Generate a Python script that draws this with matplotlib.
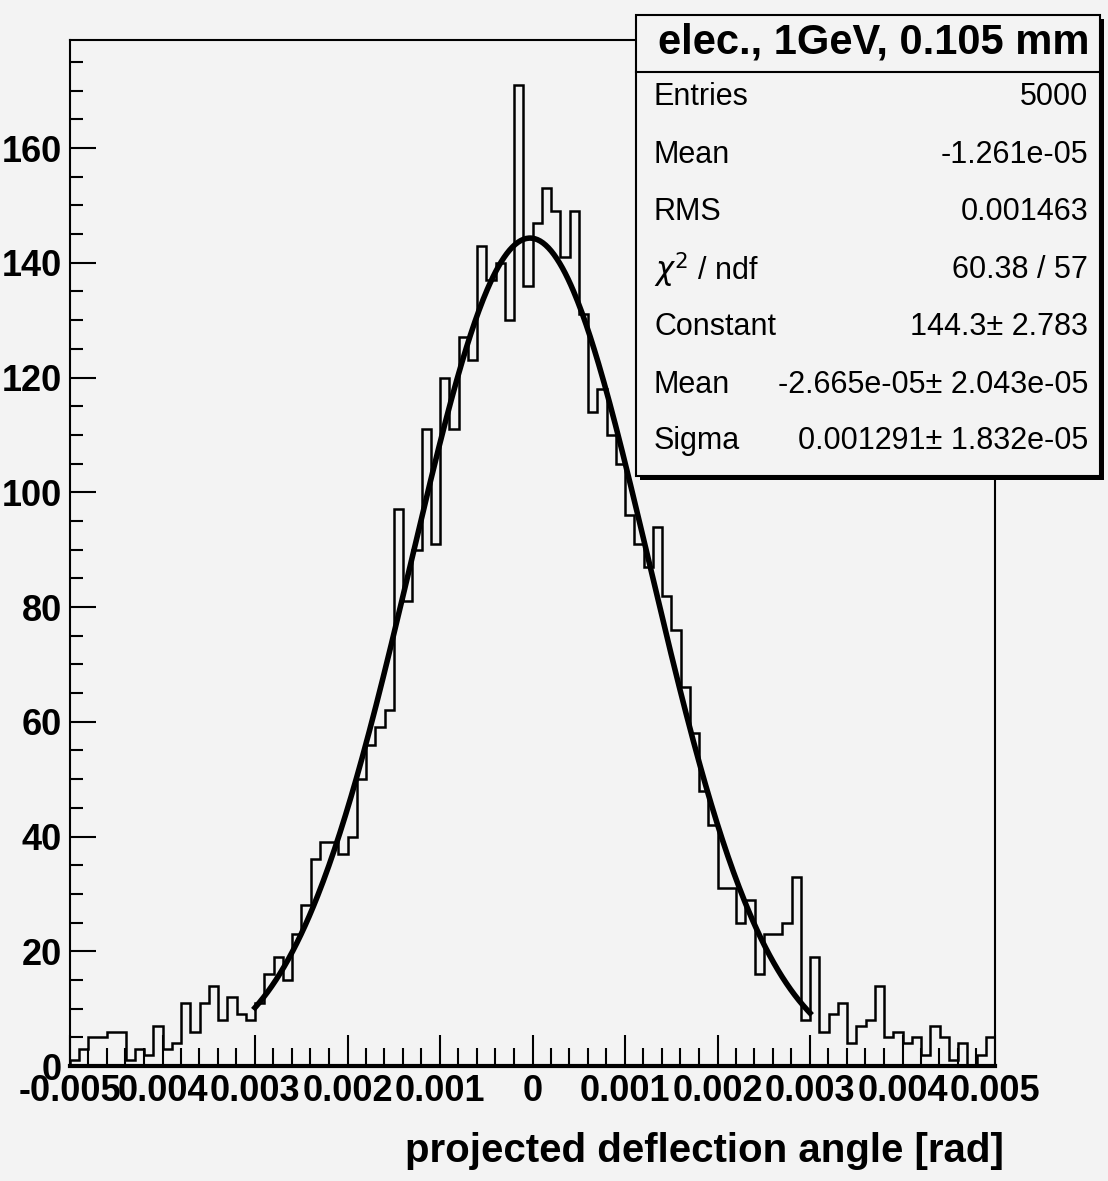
import numpy as np
import matplotlib.pyplot as plt
from matplotlib.patches import Rectangle

# histogram: 100 bins from -0.005 to 0.005
x_min, x_max, n_bins = -0.005, 0.005, 100
counts = [
    1, 3, 5, 5, 6, 6, 1, 3, 2, 7,
    3, 4, 11, 6, 11, 14, 8, 12, 9, 8,
    11, 16, 19, 15, 23, 28, 36, 39, 39, 37,
    40, 50, 56, 59, 62, 97, 81, 90, 111, 91,
    120, 111, 127, 123, 143, 137, 140, 130, 171, 136,
    147, 153, 149, 141, 149, 131, 114, 118, 110, 105,
    96, 91, 87, 94, 82, 76, 66, 58, 48, 42,
    31, 31, 25, 29, 16, 23, 23, 25, 33, 8,
    19, 6, 9, 11, 4, 7, 8, 14, 5, 6,
    4, 5, 2, 7, 5, 1, 4, 0, 2, 5,
]

# gaussian fit parameters (from stats box)
fit_const = 144.3
fit_mean = -2.665e-05
fit_sigma = 0.001291
fit_range = (-0.003, 0.003)

title = "elec., 1GeV, 0.105 mm"
stat_names = ["Entries", "Mean", "RMS", r"$\chi^2$ / ndf", "Constant", "Mean", "Sigma"]
stat_values = ["5000", "-1.261e-05", "0.001463", "60.38 / 57",
               "144.3\u00b1 2.783", "-2.665e-05\u00b1 2.043e-05", "0.001291\u00b1 1.832e-05"]

x_ticks = [-0.005, -0.004, -0.003, -0.002, -0.001, 0, 0.001, 0.002, 0.003, 0.004, 0.005]
x_ticklabels = ["-0.005", "0.004", "0.003", "0.002", "0.001", "0",
                "0.001", "0.002", "0.003", "0.004", "0.005"]
y_ticks = [0, 20, 40, 60, 80, 100, 120, 140, 160]

plt.rcParams["font.family"] = ["Liberation Sans", "DejaVu Sans"]
bg = "#f3f3f3"

W, H = 1108, 1181
fig = plt.figure(figsize=(W / 100, H / 100), dpi=100, facecolor=bg)
L, R, T, B = 70, 995, 40, 1066
ax = fig.add_axes([L / W, 1 - B / H, (R - L) / W, (B - T) / H], facecolor=bg)

edges = np.linspace(x_min, x_max, n_bins + 1)
ax.stairs(counts, edges, color="black", lw=1.8, baseline=0)

xf = np.linspace(fit_range[0], fit_range[1], 400)
yf = fit_const * np.exp(-0.5 * ((xf - fit_mean) / fit_sigma) ** 2)
ax.plot(xf, yf, color="black", lw=4)

ax.set_xlim(x_min, x_max)
ax.set_ylim(0, (B - T) / 5.7375)

ax.set_xticks(x_ticks)
ax.set_xticklabels(x_ticklabels)
ax.set_xticks(np.arange(-0.005, 0.00501, 0.0002), minor=True)
ax.set_yticks(y_ticks)
ax.set_yticks(np.arange(0, 180, 5), minor=True)

ax.tick_params(axis="both", which="both", direction="in", color="black")
ax.tick_params(axis="x", which="major", length=22, width=1.5, labelsize=26, pad=6)
ax.tick_params(axis="x", which="minor", length=13, width=1.5)
ax.tick_params(axis="y", which="major", length=19, width=1.5, labelsize=26, pad=6)
ax.tick_params(axis="y", which="minor", length=9, width=1.5)
for lab in ax.get_xticklabels() + ax.get_yticklabels():
    lab.set_fontweight("bold")

for s in ax.spines.values():
    s.set_linewidth(1.5)
ax.spines["bottom"].set_linewidth(3)

ax.set_xlabel("projected deflection angle [rad]", fontsize=29, fontweight="bold",
              loc="right", labelpad=16)
ax.xaxis.label.set_x(1.01)

# stats box
bx0, bx1, by0, by1 = 636, 1100, 15, 476
fig.patches.append(Rectangle(((bx0 + 4) / W, 1 - (by1 + 4) / H), (bx1 - bx0) / W,
                             (by1 - by0) / H, transform=fig.transFigure,
                             facecolor="black", edgecolor="none", zorder=10))
fig.patches.append(Rectangle((bx0 / W, 1 - by1 / H), (bx1 - bx0) / W, (by1 - by0) / H,
                             transform=fig.transFigure, facecolor=bg,
                             edgecolor="black", lw=1.5, zorder=11))
sep_y = 72
fig.add_artist(plt.Line2D([bx0 / W, bx1 / W], [1 - sep_y / H, 1 - sep_y / H],
                          transform=fig.transFigure, color="black", lw=1.5, zorder=12))
fig.text(1090 / W, 1 - 42 / H, title, fontsize=30, fontweight="bold",
         ha="right", va="center", zorder=13)

row_y = [97, 155, 212, 270, 327, 385, 441]
for name, val, yy in zip(stat_names, stat_values, row_y):
    fig.text(654 / W, 1 - yy / H, name, fontsize=22, ha="left", va="center", zorder=13)
    fig.text(1088 / W, 1 - yy / H, val, fontsize=22, ha="right", va="center", zorder=13)

fig.savefig("out.png", dpi=100, facecolor=bg)
